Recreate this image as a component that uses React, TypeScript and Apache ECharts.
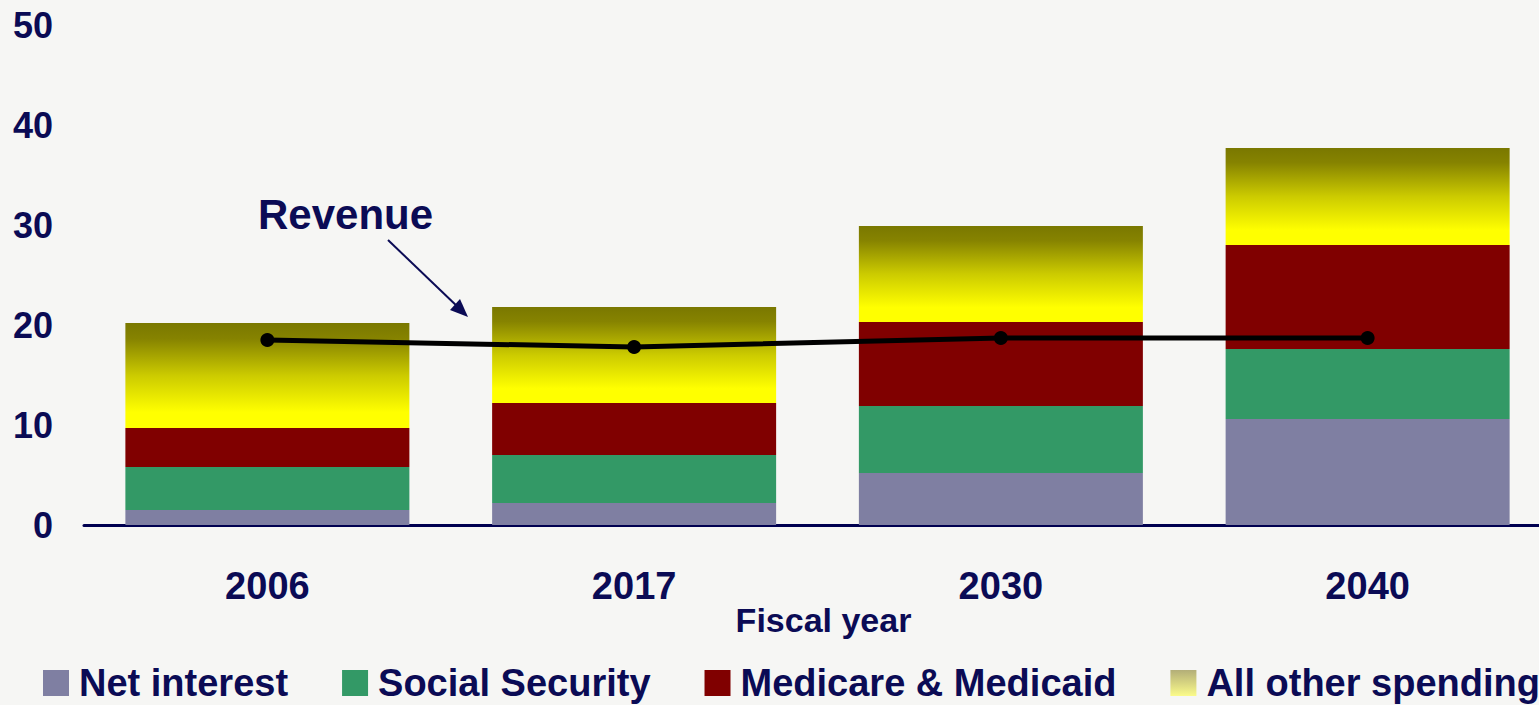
import React, { useEffect, useRef } from "react";
import * as echarts from "echarts";

const categories = ["2006", "2017", "2030", "2040"];
const netInterest = [1.5, 2.2, 5.2, 10.6];
const socialSecurity = [4.3, 4.8, 6.7, 7.0];
const medicare = [3.9, 5.2, 8.4, 10.4];
const allOther = [10.5, 9.6, 9.6, 9.7];
const revenue = [18.5, 17.8, 18.7, 18.7];
const yTicks = { min: 0, max: 50, interval: 10 };

const NAVY = "#0b0b55";
const FONT = "'Liberation Sans', Arial, sans-serif";

export default function App() {
  const ref = useRef<HTMLDivElement>(null);
  useEffect(() => {
    if (!ref.current) return;
    const chart = echarts.init(ref.current, undefined, { renderer: "svg" });
    const otherGrad = new echarts.graphic.LinearGradient(0, 0, 0, 1, [
      { offset: 0, color: "#7a7800" },
      { offset: 0.15, color: "#868300" },
      { offset: 0.5, color: "#cccb00" },
      { offset: 0.85, color: "#ffff00" },
      { offset: 1, color: "#ffff00" },
    ]);
    const legendGrad = new echarts.graphic.LinearGradient(0, 0, 0, 1, [
      { offset: 0, color: "#b3ae78" },
      { offset: 1, color: "#fbfb8a" },
    ]);
    const barW = 284;
    chart.setOption({
      animation: false,
      backgroundColor: "#f6f6f4",
      textStyle: { fontFamily: FONT },
      grid: { left: 84, right: 0, top: 25, bottom: 180, containLabel: false },
      legend: {
        left: 43,
        top: 664,
        width: 1600,
        padding: 0,
        itemWidth: 26,
        itemHeight: 26,
        itemGap: 54,
        icon: "rect",
        textStyle: { fontSize: 38, lineHeight: 30, fontWeight: "bold", color: NAVY, fontFamily: FONT, padding: [0, 0, 0, 5] },
        data: [
          { name: "Net interest" },
          { name: "Social Security" },
          { name: "Medicare & Medicaid" },
          { name: "All other spending", itemStyle: { color: legendGrad } },
        ],
      },
      xAxis: {
        type: "category",
        data: categories,
        name: "Fiscal year",
        nameLocation: "middle",
        nameGap: 78,
        nameMoveOverlap: false,
        nameTextStyle: { fontSize: 34, fontWeight: "bold", color: NAVY, fontFamily: FONT, verticalAlign: "top", padding: [0, 0, 0, 12] },
        axisLine: { lineStyle: { color: "#000050", width: 3 } },
        axisTick: { show: false },
        axisLabel: { margin: 42, fontSize: 38, fontWeight: "bold", color: NAVY, fontFamily: FONT },
      },
      yAxis: {
        type: "value",
        min: yTicks.min,
        max: yTicks.max,
        interval: yTicks.interval,
        axisLine: { show: false },
        axisTick: { show: false },
        splitLine: { show: false },
        axisLabel: { margin: 31, fontSize: 36, fontWeight: "bold", color: NAVY, fontFamily: FONT },
      },
      series: [
        { name: "Net interest", type: "bar", stack: "s", barWidth: barW, data: netInterest, itemStyle: { color: "#7f7fa2" } },
        { name: "Social Security", type: "bar", stack: "s", barWidth: barW, data: socialSecurity, itemStyle: { color: "#339966" } },
        { name: "Medicare & Medicaid", type: "bar", stack: "s", barWidth: barW, data: medicare, itemStyle: { color: "#800000" } },
        { name: "All other spending", type: "bar", stack: "s", barWidth: barW, data: allOther, itemStyle: { color: otherGrad } },
        {
          name: "Revenue",
          type: "line",
          data: revenue,
          z: 10,
          symbol: "circle",
          symbolSize: 14,
          lineStyle: { color: "#000000", width: 5 },
          itemStyle: { color: "#000000" },
        },
      ],
      graphic: [
        {
          type: "text",
          left: 258,
          top: 193,
          style: { text: "Revenue", fontSize: 42, fontWeight: "bold", fill: NAVY, fontFamily: FONT },
        },
        {
          type: "line",
          shape: { x1: 388, y1: 240, x2: 460, y2: 309 },
          style: { stroke: NAVY, lineWidth: 2 },
        },
        {
          type: "polygon",
          shape: { points: [[468, 317], [450, 310], [460, 299]] },
          style: { fill: NAVY },
        },
      ],
    });
    return () => chart.dispose();
  }, []);
  return <div ref={ref} style={{ position: "fixed", left: 0, top: 0, width: 1551, height: 705 }} />;
}
